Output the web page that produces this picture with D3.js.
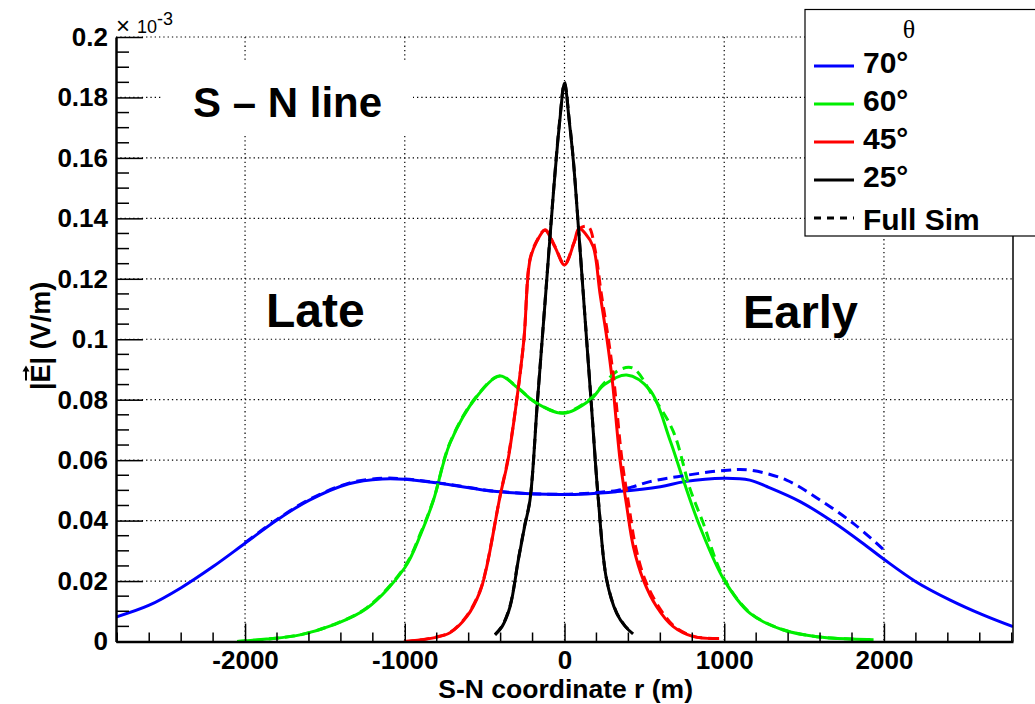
<!DOCTYPE html>
<html>
<head>
<meta charset="utf-8">
<script src="https://cdn.jsdelivr.net/npm/d3@7"></script>
<style>
  html, body { margin: 0; padding: 0; background: #fff; }
  svg { display: block; }
  text { font-family: "Liberation Sans", Arial, Helvetica, sans-serif; }
</style>
</head>
<body>
<svg id="chart" width="1035" height="704"></svg>
<script>
// ---------------- data (r in m, |E| in units of 1e-3 V/m) ----------------
const xMajorTicks = [-2000, -1000, 0, 1000, 2000];
const xTickLabels = ["-2000", "-1000", "0", "1000", "2000"];
const yMajorTicks = [0, 0.02, 0.04, 0.06, 0.08, 0.1, 0.12, 0.14, 0.16, 0.18, 0.2];
const yTickLabels = ["0", "0.02", "0.04", "0.06", "0.08", "0.1", "0.12", "0.14", "0.16", "0.18", "0.2"];

const legendLabels = ["70°", "60°", "45°", "25°"];
const seriesColors = ["#0000ff", "#00ee00", "#ff0000", "#000000"];

// theta = 70 deg
const r70 = [-2808, -2600, -2400, -2200, -2000, -1800, -1600, -1350, -1140, -1000, -750, -425, 0, 330, 600, 750, 1000, 1160, 1270, 1475, 1680, 1890, 2000, 2200, 2415, 2620, 2808];
const e70 = [0.0081, 0.0120, 0.0178, 0.0248, 0.0325, 0.0402, 0.0467, 0.0522, 0.0538, 0.0537, 0.0521, 0.0496, 0.0486, 0.0496, 0.0512, 0.0529, 0.0540, 0.0534, 0.0512, 0.0463, 0.0396, 0.0316, 0.0272, 0.0198, 0.0137, 0.0088, 0.0049];
const r70sim = [-2000, -1800, -1600, -1350, -1140, -1000, -750, -425, 0, 330, 430, 535, 740, 1000, 1160, 1390, 1600, 1810, 2000];
const e70sim = [0.0327, 0.0404, 0.0469, 0.0524, 0.0540, 0.0538, 0.0522, 0.0497, 0.0487, 0.0500, 0.0512, 0.0529, 0.0548, 0.0566, 0.0567, 0.0534, 0.0468, 0.0390, 0.0303];

// theta = 60 deg
const r60 = [-2050, -1865, -1656, -1447, -1237, -1000, -900, -820, -717, -550, -404, -300, -174, -7, 160, 250, 389, 535, 660, 744, 848, 1000, 1162, 1370, 1580, 1800, 1935];
const e60 = [0.0, 0.0008, 0.0022, 0.0055, 0.0110, 0.0244, 0.0355, 0.0468, 0.0656, 0.0810, 0.0878, 0.0842, 0.0788, 0.0755, 0.0799, 0.0850, 0.0882, 0.0832, 0.0667, 0.0534, 0.0380, 0.0203, 0.0093, 0.0038, 0.0016, 0.0008, 0.0006];
const r60sim = [-2050, -1865, -1656, -1447, -1237, -1000, -900, -820, -717, -550, -404, -300, -174, -7, 160, 250, 348, 430, 555, 681, 786, 869, 993, 1162, 1370, 1580, 1800, 1935];
const e60sim = [0.0, 0.0008, 0.0022, 0.0056, 0.0112, 0.0248, 0.0360, 0.0470, 0.0658, 0.0812, 0.0879, 0.0843, 0.0789, 0.0757, 0.0802, 0.0856, 0.0900, 0.0904, 0.0810, 0.0695, 0.0505, 0.0391, 0.0214, 0.0095, 0.0039, 0.0016, 0.0008, 0.0006];

// theta = 45 deg
const r45 = [-1005, -920, -820, -717, -612, -529, -487, -404, -354, -299, -254, -216, -174, -122, -60, 0, 60, 90, 130, 180, 222, 266, 300, 348, 389, 431, 494, 577, 681, 807, 968];
const e45 = [0.0, 0.0004, 0.0012, 0.0029, 0.0082, 0.0165, 0.0247, 0.0479, 0.0600, 0.0799, 0.1000, 0.1262, 0.1323, 0.1361, 0.1305, 0.1246, 0.1320, 0.1367, 0.1350, 0.1306, 0.1152, 0.1000, 0.0860, 0.0600, 0.0450, 0.0314, 0.0203, 0.0115, 0.0049, 0.0016, 0.0010];
const r45sim = [-1005, -920, -820, -717, -612, -529, -487, -404, -354, -299, -254, -216, -174, -122, -60, 0, 60, 100, 150, 190, 230, 275, 310, 360, 400, 445, 505, 590, 690, 815, 968];
const e45sim = [0.0, 0.0004, 0.0013, 0.0030, 0.0085, 0.0168, 0.0250, 0.0480, 0.0605, 0.0800, 0.1000, 0.1265, 0.1325, 0.1362, 0.1308, 0.1248, 0.1320, 0.1368, 0.1372, 0.1300, 0.1152, 0.1000, 0.0860, 0.0600, 0.0460, 0.0314, 0.0203, 0.0115, 0.0049, 0.0016, 0.0010];

// theta = 25 deg
const r25 = [-435, -390, -341, -289, -250, -216, -170, -122, -70, -30, 0, 30, 55, 90, 123, 170, 212, 264, 327, 380, 429];
const e25 = [0.0022, 0.0050, 0.0115, 0.0270, 0.0380, 0.0468, 0.0790, 0.1120, 0.1480, 0.1720, 0.1847, 0.1720, 0.1593, 0.1350, 0.1110, 0.0770, 0.0468, 0.0203, 0.0093, 0.0050, 0.0025];
const r25sim = [-435, -390, -341, -289, -250, -216, -170, -122, -70, -30, 0, 30, 55, 90, 123, 170, 212, 264, 327, 380, 429];
const e25sim = [0.0023, 0.0052, 0.0118, 0.0272, 0.0382, 0.0470, 0.0792, 0.1122, 0.1482, 0.1725, 0.1850, 0.1725, 0.1596, 0.1352, 0.1112, 0.0772, 0.0470, 0.0205, 0.0095, 0.0051, 0.0026];

// ---------------- drawing ----------------
const svg = d3.select("#chart");
const W = 1035, H = 704;
const L = 116, R = 1013, T = 37, B = 641.5;

const x = d3.scaleLinear().domain([-2808, 2808]).range([L, R]);
const y = d3.scaleLinear().domain([0, 0.2]).range([B, T]);

svg.append("rect").attr("width", W).attr("height", H).attr("fill", "#fff");

svg.append("defs").append("clipPath").attr("id", "clip")
  .append("rect").attr("x", L).attr("y", T - 2).attr("width", R - L).attr("height", B - T + 2);

// grid
const grid = svg.append("g").attr("stroke", "#000").attr("stroke-width", 1.2).attr("stroke-dasharray", "1.3,3");
grid.selectAll("line.gx").data(xMajorTicks).join("line").attr("class", "gx")
  .attr("x1", d => x(d)).attr("x2", d => x(d)).attr("y1", T).attr("y2", B);
grid.selectAll("line.gy").data(yMajorTicks).join("line").attr("class", "gy")
  .attr("x1", L).attr("x2", R).attr("y1", d => y(d)).attr("y2", d => y(d));

// white box behind the "S – N line" label
svg.append("rect").attr("x", 162).attr("y", 61).attr("width", 251).attr("height", 72).attr("fill", "#fff");

// curves
const line = d3.line().x(d => x(d[0])).y(d => y(d[1])).curve(d3.curveCatmullRom.alpha(0.5));
const zip = (a, b) => a.map((v, i) => [v, b[i]]);
const solid = [zip(r70, e70), zip(r60, e60), zip(r45, e45), zip(r25, e25)];
const dashed = [zip(r70sim, e70sim), zip(r60sim, e60sim), zip(r45sim, e45sim), zip(r25sim, e25sim)];

const plot = svg.append("g").attr("clip-path", "url(#clip)");
solid.forEach((pts, i) => {
  plot.append("path").attr("d", line(pts)).attr("fill", "none")
    .attr("stroke", seriesColors[i]).attr("stroke-width", 3);
});
dashed.forEach((pts, i) => {
  plot.append("path").attr("d", line(pts)).attr("fill", "none")
    .attr("stroke", seriesColors[i]).attr("stroke-width", 3).attr("stroke-dasharray", "10,6");
});

// axes
const fontSize = 26;
const xAxis = d3.axisBottom(x).tickValues(xMajorTicks).tickFormat((d, i) => xTickLabels[i])
  .tickSizeInner(-18).tickSizeOuter(0).tickPadding(9);
const gx = svg.append("g").attr("transform", `translate(0,${B})`).call(xAxis);
const xMinor = d3.range(-2800, 2801, 200).filter(v => !xMajorTicks.includes(v));
gx.selectAll("line.minor").data(xMinor).join("line").attr("class", "minor")
  .attr("x1", d => x(d)).attr("x2", d => x(d)).attr("y1", 0).attr("y2", -9).attr("stroke", "#000").attr("stroke-width", 1.5);

const yAxis = d3.axisLeft(y).tickValues(yMajorTicks).tickFormat((d, i) => yTickLabels[i])
  .tickSizeInner(-27).tickSizeOuter(0).tickPadding(8);
const gy = svg.append("g").attr("transform", `translate(${L},0)`).call(yAxis);
const yMinor = d3.range(0, 0.2001, 0.005).filter(v => !yMajorTicks.some(m => Math.abs(m - v) < 1e-9));
gy.selectAll("line.minor").data(yMinor).join("line").attr("class", "minor")
  .attr("x1", 0).attr("x2", 13).attr("y1", d => y(d)).attr("y2", d => y(d)).attr("stroke", "#000").attr("stroke-width", 1.5);

[gx, gy].forEach(g => {
  g.attr("font-family", null).attr("font-size", null);
  g.select(".domain").attr("stroke", "#000").attr("stroke-width", 2.5);
  g.selectAll(".tick line").attr("stroke", "#000").attr("stroke-width", 1.5);
  g.selectAll(".tick text").attr("fill", "#000").attr("font-size", fontSize).attr("font-weight", "bold")
    .style("font-family", '"Liberation Sans", Arial, sans-serif');
});

// right frame
svg.append("line").attr("x1", R).attr("x2", R).attr("y1", T).attr("y2", B).attr("stroke", "#000").attr("stroke-width", 1.5);

// exponent label
svg.append("text").attr("x", 116).attr("y", 34).attr("font-size", 24).text("×");
svg.append("text").attr("x", 137).attr("y", 33).attr("font-size", 18).text("10");
svg.append("text").attr("x", 157).attr("y", 25).attr("font-size", 18).text("-3");

// axis titles
svg.append("text").attr("x", 693).attr("y", 698).attr("text-anchor", "end")
  .attr("font-size", 26.5).attr("font-weight", "bold").text("S-N coordinate r (m)");

const yt = svg.append("g").attr("transform", "translate(50,390) rotate(-90)");
const ytext = yt.append("text").attr("x", 0).attr("y", 0).attr("font-size", 27).attr("font-weight", "bold");
ytext.append("tspan").text("|");
ytext.append("tspan").text("E");
ytext.append("tspan").text("| (V/m)");
const bar = ytext.node().getSubStringLength ? ytext.node().getSubStringLength(0, 1) : 7.5;
const eW = ytext.node().getSubStringLength ? ytext.node().getSubStringLength(1, 1) : 18;
const ax0 = bar + 2, ax1 = bar + eW - 1, ay = -24;
yt.append("line").attr("x1", ax0).attr("x2", ax1 - 2).attr("y1", ay).attr("y2", ay).attr("stroke", "#000").attr("stroke-width", 2);
yt.append("path").attr("d", `M${ax1},${ay} L${ax1 - 6},${ay - 3.5} L${ax1 - 6},${ay + 3.5} Z`).attr("fill", "#000");

// annotations
svg.append("text").attr("x", 193).attr("y", 117).attr("font-size", 42).attr("font-weight", "bold").text("S – N line");
svg.append("text").attr("x", 266).attr("y", 327).attr("font-size", 48).attr("font-weight", "bold").text("Late");
svg.append("text").attr("x", 743).attr("y", 328).attr("font-size", 47).attr("font-weight", "bold").text("Early");

// legend
const lg = svg.append("g");
lg.append("rect").attr("x", 805).attr("y", 9.5).attr("width", 240).attr("height", 226.5)
  .attr("fill", "#fff").attr("stroke", "#000").attr("stroke-width", 1.2);
lg.append("text").attr("x", 909).attr("y", 38).attr("text-anchor", "middle").attr("font-size", 26)
  .style("font-family", '"Liberation Serif", "DejaVu Serif", serif').text("θ");
const rowsY = [66, 104, 142, 180];
legendLabels.forEach((lab, i) => {
  lg.append("line").attr("x1", 814).attr("x2", 854).attr("y1", rowsY[i]).attr("y2", rowsY[i])
    .attr("stroke", seriesColors[i]).attr("stroke-width", 3);
  lg.append("text").attr("x", 863).attr("y", rowsY[i] + 7).attr("font-size", 30).attr("font-weight", "bold").text(lab);
});
lg.append("line").attr("x1", 814).attr("x2", 854).attr("y1", 218).attr("y2", 218)
  .attr("stroke", "#000").attr("stroke-width", 3).attr("stroke-dasharray", "7,6");
lg.append("text").attr("x", 863).attr("y", 230).attr("font-size", 30).attr("font-weight", "bold").text("Full Sim");
</script>
</body>
</html>
